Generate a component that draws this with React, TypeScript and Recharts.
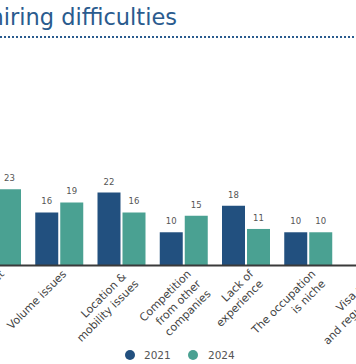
import React from "react";
import { BarChart, Bar, XAxis, YAxis, LabelList } from "recharts";

const categories = [
  "Budget",
  "Volume issues",
  "Location & \nmobility issues",
  "Competition\nfrom other\ncompanies",
  "Lack of\nexperience",
  "The occupation\nis niche",
  "Visa rules\nand regulations",
];
const values2021 = [21, 16, 22, 10, 18, 10, null];
const values2024 = [23, 19, 16, 15, 11, 10, 8];
const seriesNames = ["2021", "2024"];
const seriesColors = ["#22507f", "#4aa192"];

const FONT = "'DejaVu Sans', Verdana, sans-serif";

const data = categories.map((name, i) => ({
  name,
  y2021: values2021[i],
  y2024: values2024[i],
}));

function CategoryTick(props: any) {
  const { x, y, payload } = props;
  const lines = String(payload.value).split("\n");
  return (
    <g transform={`translate(${x},${y})`}>
      <text
        transform="rotate(-45)"
        textAnchor="end"
        fontSize={11}
        fontFamily={FONT}
        fill="#444"
        style={{ whiteSpace: "pre" }}
      >
        {lines.map((l, i) => (
          <tspan key={i} x={-1} dy={i === 0 ? 12 : 14}>
            {l}
          </tspan>
        ))}
      </text>
    </g>
  );
}

function ValueLabel(props: any) {
  const { x, y, width, value } = props;
  if (value === null || value === undefined) return null;
  return (
    <text
      x={x + width / 2}
      y={y - 8}
      textAnchor="middle"
      fontSize={8.5}
      fontFamily={FONT}
      fill="#555"
    >
      {value}
    </text>
  );
}

export default function App() {
  return (
    <div
      style={{
        position: "absolute",
        left: 0,
        top: 0,
        width: 356,
        height: 364,
        overflow: "hidden",
        background: "#fff",
        fontFamily: FONT,
      }}
    >
      <div
        style={{
          position: "absolute",
          right: 179,
          top: 6,
          fontSize: 22.5,
          lineHeight: 1,
          color: "#2a5b8e",
          whiteSpace: "nowrap",
          textAlign: "right",
        }}
      >
        hiring difficulties
      </div>
      <div
        style={{
          position: "absolute",
          left: 0,
          top: 36,
          width: 354,
          borderTop: "2px dotted #2a5b8e",
        }}
      />
      <div style={{ position: "absolute", left: -34.4, top: 0 }}>
        <BarChart
          width={435.75}
          height={364}
          data={data}
          margin={{ top: 166, right: 0, bottom: 68.6, left: 0 }}
          barGap={2}
          barSize={23}
        >
          <XAxis
            dataKey="name"
            interval={0}
            height={30}
            tickLine={false}
            tickSize={0}
            tickMargin={0}
            axisLine={{ stroke: "#3a3a3a", strokeWidth: 2 }}
            tick={(p: any) => <CategoryTick {...p} />}
          />
          <YAxis hide domain={[0, 30]} />
          <Bar dataKey="y2021" name={seriesNames[0]} fill={seriesColors[0]} isAnimationActive={false}>
            <LabelList dataKey="y2021" content={(p: any) => <ValueLabel {...p} />} />
          </Bar>
          <Bar dataKey="y2024" name={seriesNames[1]} fill={seriesColors[1]} isAnimationActive={false}>
            <LabelList dataKey="y2024" content={(p: any) => <ValueLabel {...p} />} />
          </Bar>
        </BarChart>
      </div>
      {seriesNames.map((s, i) => (
        <React.Fragment key={s}>
          <div
            style={{
              position: "absolute",
              left: 124.5 + i * 63.5,
              top: 350,
              width: 10,
              height: 10,
              borderRadius: "50%",
              background: seriesColors[i],
            }}
          />
          <div
            style={{
              position: "absolute",
              left: 144 + i * 64,
              top: 348,
              fontSize: 10.5,
              lineHeight: "14px",
              color: "#555",
            }}
          >
            {s}
          </div>
        </React.Fragment>
      ))}
    </div>
  );
}
